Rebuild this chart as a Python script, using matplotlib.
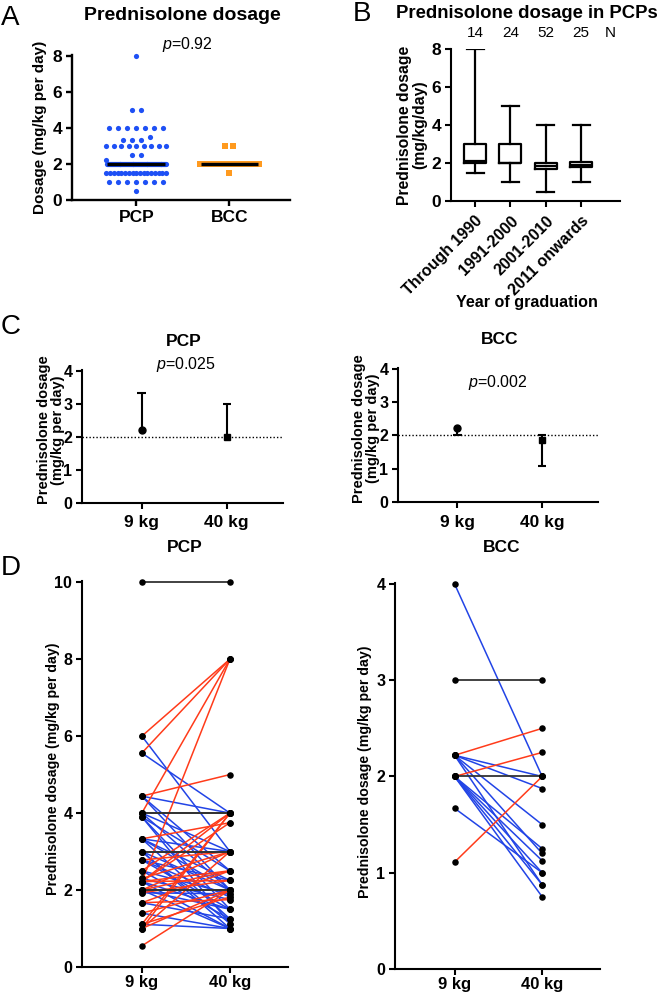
import matplotlib
matplotlib.use('Agg')
import matplotlib.pyplot as plt
import numpy as np

plt.rcParams['font.family'] = ['Liberation Sans', 'DejaVu Sans']
plt.rcParams['mathtext.fontset'] = 'custom'
plt.rcParams['mathtext.it'] = 'Liberation Sans:italic'
plt.rcParams['mathtext.rm'] = 'Liberation Sans'

# ---------------- data ----------------
# Panel A: dosage per level (value, count)
a_pcp_levels = [0.5, 1, 1.5, 2.2, 2, 2.5, 3, 3.33, 3.5, 4, 5, 8]
a_pcp_counts = [1, 7, 17, 1, 64, 2, 9, 3, 1, 7, 2, 1]
a_bcc_levels = [1.5, 2, 3]
a_bcc_counts = [1, 13, 2]
a_medians = [2, 2]
a_groups = ['PCP', 'BCC']

# Panel B: box plot stats by year of graduation
b_groups = ['Through 1990', '1991-2000', '2001-2010', '2011 onwards']
b_n = [14, 24, 52, 25]
b_min = [1.5, 1.0, 0.5, 1.0]
b_q1 = [2.0, 2.0, 1.67, 1.8]
b_med = [2.1, 2.0, 1.86, 1.92]
b_q3 = [3.0, 3.0, 2.02, 2.04]
b_max = [8.0, 5.0, 4.0, 4.0]

# Panel C: median with interquartile range
c_weights = ['9 kg', '40 kg']
c_pcp_med = [2.22, 2.0]
c_pcp_q1 = [2.22, 2.0]
c_pcp_q3 = [3.33, 3.0]
c_bcc_med = [2.22, 1.875]
c_bcc_q1 = [2.0, 1.07]
c_bcc_q3 = [2.22, 2.0]

# Panel D: paired dosages (9 kg -> 40 kg)
d_pcp_9 = [10, 6, 6, 5.56, 5.56, 4.44, 4.44, 4.44, 4.44, 4, 4, 4, 4, 4,
           3.9, 3.9, 3.9, 3.33, 3.33, 3.33, 3.33, 3.33, 3, 3, 3, 3, 3,
           2.78, 2.78, 2.78, 2.78, 2.5, 2.5, 2.5, 2.3, 2.3,
           2.22, 2.22, 2.22, 2.22, 2.22, 2.22, 2.22, 2, 2, 2, 2, 2, 2,
           1.93, 1.93, 1.67, 1.67, 1.67, 1.4, 1.4, 1.11, 1.11, 1.11,
           1, 1, 1, 0.55]
d_pcp_40 = [10, 8, 3, 8, 4, 5, 4, 2.5, 2, 8, 4, 4, 3, 2,
            2.5, 1.5, 1.13, 3.75, 3, 2.25, 2, 1.25, 3, 3, 2, 1.13, 1,
            3, 2.25, 1.82, 1.5, 4, 1.9, 1.25, 3, 1.75,
            8, 4, 3.75, 2.5, 2.25, 1.5, 1, 2, 2, 3, 2.5, 1.5, 1,
            2.25, 1.9, 2.5, 1.75, 1.25, 2, 1, 4, 1.82, 1.0,
            4, 3, 2, 2]
d_bcc_9 = [4, 3, 2.22, 2.22, 2.22, 2.22, 2.22, 2.22, 2, 2, 2, 2, 2, 2, 2, 1.67, 1.11]
d_bcc_40 = [2, 3, 2.5, 2, 1.875, 1.5, 1.2, 0.875, 2.25, 2, 1.25, 1.125, 1.0, 0.75, 0.875, 1.0, 2]

# ---------------- layout ----------------
W, H = 660, 994
fig = plt.figure(figsize=(W / 100, H / 100), dpi=100)

BLUE_A = '#1E50F5'
ORANGE = '#FF9A1F'
RED = '#FF3B1A'
BLUE = '#2244E6'


def add_ax(l, t, r, b):
    return fig.add_axes([l / W, 1 - b / H, (r - l) / W, (b - t) / H])


def ftext(x, y, s, **kw):
    kw.setdefault('ha', 'center')
    kw.setdefault('va', 'center')
    fig.text(x / W, 1 - y / H, s, **kw)


def style(ax, lw=1.5):
    for s in ['top', 'right']:
        ax.spines[s].set_visible(False)
    for s in ['left', 'bottom']:
        ax.spines[s].set_linewidth(lw)
    ax.tick_params(width=lw, length=4, direction='out', pad=3)


def bold_ticks(ax, xs, ys):
    for lab in ax.get_xticklabels():
        lab.set_fontweight('bold'); lab.set_fontsize(xs)
    for lab in ax.get_yticklabels():
        lab.set_fontweight('bold'); lab.set_fontsize(ys)


def strip_layout(levels, counts, center, step, half, tol=0.25):
    xs, ys = [], []
    groups = []
    for v, n in zip(levels, counts):
        if groups and abs(v - groups[-1][0][0]) < tol:
            groups[-1].append((v, n))
        else:
            groups.append([(v, n)])
    for g in groups:
        vals = [v for v, n in g for _ in range(n)]
        n = len(vals)
        sp = min(step, 2 * half / (n - 1)) if n > 1 else 0
        offs = (np.arange(n) - (n - 1) / 2) * sp
        xs.extend(center + offs)
        ys.extend(vals)
    return np.array(xs), np.array(ys)


# ---------- Panel A ----------
axA = add_ax(72, 55, 290, 200)
style(axA, 1.7)
xa, ya = strip_layout(a_pcp_levels, a_pcp_counts, 0, 0.097, 0.32)
axA.scatter(xa, ya, s=14, color=BLUE_A, linewidths=0, zorder=2, clip_on=False)
xb, yb = strip_layout(a_bcc_levels, a_bcc_counts, 1, 0.086, 0.32)
axA.scatter(xb, yb, s=14, marker='s', color=ORANGE, linewidths=0, zorder=2, clip_on=False)
for i, m in enumerate(a_medians):
    axA.hlines(m, i - 0.31, i + 0.31, color='black', lw=2.4, zorder=3)
axA.set_xlim(-0.69, 1.65)
axA.set_ylim(0, 8.05)
axA.set_yticks([0, 2, 4, 6, 8])
axA.set_xticks([0, 1])
axA.set_xticklabels(a_groups)
bold_ticks(axA, 12.5, 12.5)
axA.set_ylabel('Dosage (mg/kg per day)', fontsize=11, fontweight='bold')
axA.yaxis.set_label_coords(-0.115, 0.5)
ftext(182, 16, 'Prednisolone dosage', fontsize=14, fontweight='bold')
ftext(187, 45, r'$\mathit{p}$=0.92', fontsize=11.5)
ftext(10, 18, 'A', fontsize=20)

# ---------- Panel B ----------
axB = add_ax(451, 49, 620, 201)
style(axB, 1.5)
stats = []
for i in range(len(b_groups)):
    stats.append(dict(whislo=b_min[i], q1=b_q1[i], med=b_med[i], q3=b_q3[i],
                      whishi=b_max[i], fliers=[]))
pos = np.arange(len(b_groups))
axB.bxp(stats, positions=pos, widths=0.62, capwidths=0.48, showfliers=False,
        boxprops=dict(lw=1.6, color='black'),
        medianprops=dict(lw=1.6, color='black'),
        whiskerprops=dict(lw=1.6, color='black'),
        capprops=dict(lw=1.6, color='black'))
axB.set_xlim(-0.68, 4.1)
axB.set_ylim(0, 8.02)
axB.set_yticks([0, 2, 4, 6, 8])
axB.set_xticks(pos)
axB.set_xticklabels(b_groups, rotation=45, ha='right', rotation_mode='anchor')
bold_ticks(axB, 11.5, 12.5)
axB.tick_params(axis='x', pad=5)
axB.set_ylabel('Prednisolone dosage\n(mg/kg/day)', fontsize=11.3, fontweight='bold',
               linespacing=1.0)
axB.yaxis.set_label_coords(-0.142, 0.5)
for i, n in enumerate(b_n):
    axB.text(i, 1.105, str(n), transform=axB.get_xaxis_transform(),
             ha='center', va='center', fontsize=11)
axB.text(3.82, 1.105, 'N', transform=axB.get_xaxis_transform(),
         ha='center', va='center', fontsize=11)
ftext(527, 14, 'Prednisolone dosage in PCPs', fontsize=13.3, fontweight='bold')
ftext(527, 303, 'Year of graduation', fontsize=11.6, fontweight='bold')
ftext(362, 14, 'B', fontsize=20)


# ---------- Panel C ----------
def panel_c(ax, med, q1, q3, title, ptxt, tx, ty, px, py):
    style(ax, 1.5)
    ax.axhline(2, color='black', lw=1.0, ls=(0, (1, 1.5)), zorder=1)
    markers = ['o', 's']
    for i in range(len(med)):
        if q3[i] > med[i]:
            ax.vlines(i, med[i], q3[i], color='black', lw=1.5)
            ax.hlines(q3[i], i - 0.05, i + 0.05, color='black', lw=1.5)
        if q1[i] < med[i]:
            ax.vlines(i, q1[i], med[i], color='black', lw=1.5)
            ax.hlines(q1[i], i - 0.05, i + 0.05, color='black', lw=1.5)
        ax.plot([i], [med[i]], marker=markers[i], ms=5, color='black', zorder=3)
    ax.set_xlim(-0.70, 1.66)
    ax.set_ylim(0, 4.02)
    ax.set_yticks([0, 1, 2, 3, 4])
    ax.set_xticks([0, 1])
    ax.set_xticklabels(c_weights)
    bold_ticks(ax, 12.5, 11.5)
    ax.tick_params(axis='x', pad=5)
    ax.set_ylabel('Prednisolone dosage\n(mg/kg per day)', fontsize=10.5,
                  fontweight='bold', linespacing=1.0)
    ftext(tx, ty, title, fontsize=12.5, fontweight='bold')
    ftext(px, py, ptxt, fontsize=11.5)


axC1 = add_ax(82, 370, 283, 503)
panel_c(axC1, c_pcp_med, c_pcp_q1, c_pcp_q3, 'PCP', r'$\mathit{p}$=0.025', 184, 342, 186, 365)
axC1.yaxis.set_label_coords(-0.085, 0.55)
axC2 = add_ax(398, 368, 598, 502)
panel_c(axC2, c_bcc_med, c_bcc_q1, c_bcc_q3, 'BCC', r'$\mathit{p}$=0.002', 500, 340, 498, 383)
axC2.yaxis.set_label_coords(-0.088, 0.55)
ftext(11, 327, 'C', fontsize=20)


# ---------- Panel D ----------
def panel_d(ax, v9, v40, ymax, yticks, title, tx, ty):
    style(ax, 1.5)
    v9 = np.asarray(v9, float)
    v40 = np.asarray(v40, float)
    order = [('dec', BLUE, 1.1), ('inc', RED, 1.1), ('eq', '#333333', 1.3)]
    for kind, col, lw in order:
        for a, b in zip(v9, v40):
            k = 'inc' if b > a else ('dec' if b < a else 'eq')
            if k == kind:
                ax.plot([0, 1], [a, b], color=col, lw=lw, zorder=2)
    ax.scatter(np.zeros(len(v9)), v9, s=22, color='black', zorder=4, linewidths=0, clip_on=False)
    ax.scatter(np.ones(len(v40)), v40, s=22, color='black', zorder=4, linewidths=0, clip_on=False)
    ax.set_xlim(-0.68, 1.66)
    ax.set_ylim(0, ymax)
    ax.set_yticks(yticks)
    ax.set_xticks([0, 1])
    ax.set_xticklabels(c_weights)
    bold_ticks(ax, 12, 11.5)
    ax.tick_params(axis='x', pad=2)
    ax.set_ylabel('Prednisolone dosage (mg/kg per day)', fontsize=10.2, fontweight='bold')
    ftext(tx, ty, title, fontsize=12.5, fontweight='bold')


axD1 = add_ax(82, 581, 288, 967)
panel_d(axD1, d_pcp_9, d_pcp_40, 10.03, [0, 2, 4, 6, 8, 10], 'PCP', 185, 548)
axD1.yaxis.set_label_coords(-0.107, 0.513)
axD2 = add_ax(395, 583, 600, 969)
panel_d(axD2, d_bcc_9, d_bcc_40, 4.01, [0, 1, 2, 3, 4], 'BCC', 502, 548)
axD2.yaxis.set_label_coords(-0.112, 0.51)
ftext(11, 568, 'D', fontsize=20)

fig.savefig('out.png', dpi=100)
